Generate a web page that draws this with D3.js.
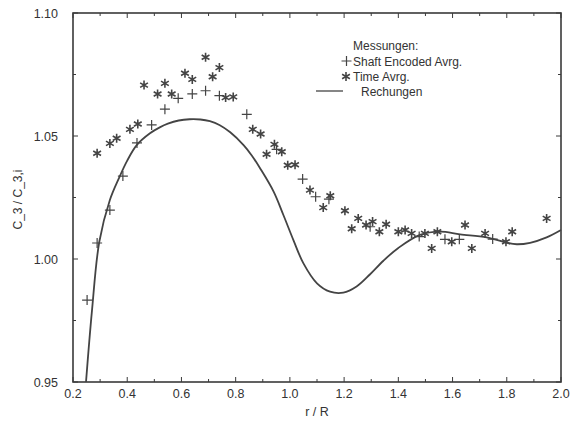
<!DOCTYPE html>
<html><head><meta charset="utf-8">
<script src="https://cdn.jsdelivr.net/npm/d3@7"></script>
<style>body{margin:0;background:#fff}svg{display:block}text{font-family:"Liberation Sans",Arial,sans-serif;fill:#333}</style>
</head><body><svg id="c" width="571" height="421"></svg>
<script>
const xTicks = [0.2,0.4,0.6,0.8,1.0,1.2,1.4,1.6,1.8,2.0];
const yTicks = [0.95,1.00,1.05,1.10];
const shaftX = [0.252,0.289,0.336,0.384,0.436,0.490,0.539,0.588,0.640,0.689,0.740,0.841,0.951,1.047,1.095,1.144,1.296,1.477,1.572,1.625,1.748];
const shaftY = [0.9833,1.0065,1.0199,1.0337,1.0472,1.0545,1.0609,1.0653,1.0671,1.0684,1.0664,1.0588,1.0446,1.0325,1.0253,1.0243,1.0131,1.0091,1.0080,1.0080,1.0081];
const timeX = [0.289,0.336,0.361,0.410,0.439,0.462,0.512,0.539,0.564,0.613,0.640,0.689,0.715,0.740,0.763,0.791,0.863,0.892,0.943,0.970,0.914,0.992,1.019,1.074,1.149,1.123,1.203,1.228,1.252,1.281,1.305,1.330,1.355,1.400,1.425,1.449,1.498,1.544,1.523,1.597,1.646,1.671,1.720,1.797,1.820,1.947];
const timeY = [1.043,1.047,1.0491,1.0527,1.0549,1.0707,1.0671,1.0714,1.0671,1.0755,1.0730,1.0820,1.0741,1.0778,1.0656,1.0659,1.0527,1.0508,1.0466,1.0436,1.0426,1.0381,1.0383,1.0280,1.0257,1.0209,1.0196,1.0123,1.0165,1.0138,1.0152,1.0111,1.0141,1.0111,1.0118,1.0104,1.0104,1.0111,1.0043,1.0070,1.0138,1.0043,1.0104,1.0070,1.0111,1.0165];
const calcX = [0.248,0.270,0.297,0.336,0.37,0.40,0.435,0.484,0.52,0.55,0.59,0.63,0.67,0.705,0.74,0.78,0.83,0.86,0.89,0.94,0.976,1.013,1.05,1.10,1.148,1.197,1.246,1.295,1.345,1.40,1.48,1.554,1.628,1.726,1.80,1.837,1.886,1.947,2.0];
const calcY = [0.950,0.979,1.007,1.024,1.033,1.040,1.0463,1.0511,1.0535,1.0550,1.0563,1.0568,1.0567,1.0560,1.0545,1.0515,1.0462,1.0420,1.0369,1.0274,1.0179,1.0077,0.9982,0.9901,0.9867,0.9863,0.9888,0.9937,0.9993,1.0045,1.0098,1.0111,1.0100,1.0088,1.0066,1.0060,1.0066,1.0088,1.0118];

const svg = d3.select("#c");
const L=73,R=561,T=13,B=382;
const x = d3.scaleLinear().domain([0.2,2.0]).range([L,R]);
const y = d3.scaleLinear().domain([0.95,1.10]).range([B,T]);
const ink="#3a3a3a";

const minorX = d3.range(0.2,2.0001,0.1);
const minorY = d3.range(0.95,1.1001,0.025);
const g = svg.append("g").attr("stroke",ink).attr("stroke-width",1);
minorX.forEach((v,i)=>{
  const len = (i%2===0)?5:3;
  g.append("line").attr("x1",x(v)).attr("x2",x(v)).attr("y1",B).attr("y2",B-len);
  g.append("line").attr("x1",x(v)).attr("x2",x(v)).attr("y1",T).attr("y2",T+len);
});
minorY.forEach((v,i)=>{
  const len = (i%2===0)?5:3;
  g.append("line").attr("y1",y(v)).attr("y2",y(v)).attr("x1",L).attr("x2",L+len);
  g.append("line").attr("y1",y(v)).attr("y2",y(v)).attr("x1",R).attr("x2",R-len);
});
svg.append("rect").attr("x",L).attr("y",T).attr("width",R-L).attr("height",B-T)
  .attr("fill","none").attr("stroke",ink).attr("stroke-width",1.6);

svg.append("g").selectAll("text").data(xTicks).join("text")
  .attr("x",d=>x(d)).attr("y",B+16).attr("text-anchor","middle")
  .attr("font-size",12.5).text(d=>d.toFixed(1));
svg.append("g").selectAll("text").data(yTicks).join("text")
  .attr("x",L-15).attr("y",d=>y(d)+4.5).attr("text-anchor","end")
  .attr("font-size",12.5).text(d=>d.toFixed(2));

svg.append("text").attr("x",x(1.1)).attr("y",416).attr("text-anchor","middle").attr("font-size",12.5).text("r / R");
svg.append("text").attr("transform",`translate(22,${(T+B)/2+2}) rotate(-90)`).attr("text-anchor","middle").attr("font-size",12).text("C_3 / C_3,i");

const line = d3.line().x(d=>x(d[0])).y(d=>y(d[1])).curve(d3.curveCatmullRom.alpha(0.5));
svg.append("path").datum(calcX.map((v,i)=>[v,calcY[i]])).attr("d",line)
  .attr("fill","none").attr("stroke","#444").attr("stroke-width",1.8);

function plus(sel,s){ sel.append("path").attr("d",`M${-s},0H${s}M0,${-s}V${s}`).attr("stroke","#444").attr("stroke-width",1.2).attr("fill","none"); }
function star(sel,s){
  let d="";
  for(let k=0;k<3;k++){const a=Math.PI/2+k*Math.PI/3;d+=`M${-s*Math.cos(a)},${-s*Math.sin(a)}L${s*Math.cos(a)},${s*Math.sin(a)}`;}
  sel.append("path").attr("d",d).attr("stroke","#444").attr("stroke-width",1.6).attr("fill","none");
}
svg.append("g").selectAll("g").data(shaftX.map((v,i)=>[v,shaftY[i]])).join("g")
  .attr("transform",d=>`translate(${x(d[0])},${y(d[1])})`).each(function(){plus(d3.select(this),5);});
svg.append("g").selectAll("g").data(timeX.map((v,i)=>[v,timeY[i]])).join("g")
  .attr("transform",d=>`translate(${x(d[0])},${y(d[1])})`).each(function(){star(d3.select(this),4.5);});

const lg = svg.append("g");
lg.append("text").attr("x",353).attr("y",50).attr("font-size",12).text("Messungen:");
lg.append("g").attr("transform","translate(346.5,61)").call(s=>plus(s,5));
lg.append("text").attr("x",353).attr("y",65.5).attr("font-size",12).text("Shaft Encoded Avrg.");
lg.append("g").attr("transform","translate(346,76.5)").call(s=>star(s,4.5));
lg.append("text").attr("x",353).attr("y",81).attr("font-size",12).text("Time Avrg.");
lg.append("line").attr("x1",316).attr("x2",343).attr("y1",91).attr("y2",91).attr("stroke","#444").attr("stroke-width",1.3);
lg.append("text").attr("x",361).attr("y",96).attr("font-size",12).text("Rechungen");
</script></body></html>
